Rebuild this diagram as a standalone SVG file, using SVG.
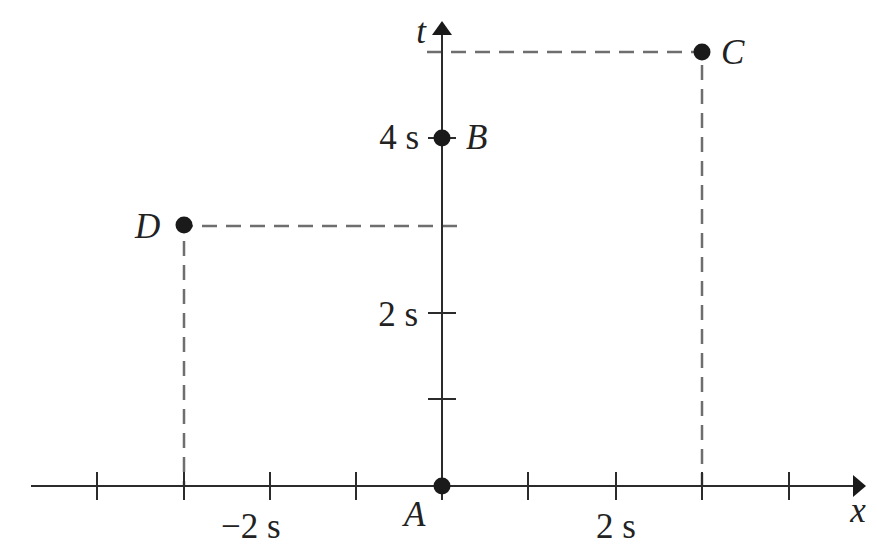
<svg xmlns="http://www.w3.org/2000/svg" width="877" height="549" viewBox="0 0 877 549">
<style>
.ax{stroke:#2b2b2b;stroke-width:2;fill:none}
.tk{stroke:#2b2b2b;stroke-width:2}
.ds{stroke:#6e6e6e;stroke-width:2.5;stroke-dasharray:15 9;fill:none}
.dot{fill:#1a1a1a}
.lb{font-family:"Liberation Serif","Times New Roman",serif;font-size:35px;fill:#222}
.it{font-style:italic}
</style>
<rect width="877" height="549" fill="#fff"/>
<g id="guides">
<path class="ds" d="M427 52H702V487"/>
<path class="ds" d="M457 226H184V487"/>
</g>
<g id="axes">
<line class="ax" x1="31" y1="486" x2="856" y2="486"/>
<polygon points="866,486 853,475 853,497" fill="#1a1a1a"/>
<line class="ax" x1="442" y1="500" x2="442" y2="32"/>
<polygon points="442,21 432,35 452,35" fill="#1a1a1a"/>
<g id="xticks">
<line class="tk" x1="97" y1="472" x2="97" y2="500"/>
<line class="tk" x1="184" y1="472" x2="184" y2="500"/>
<line class="tk" x1="270" y1="472" x2="270" y2="500"/>
<line class="tk" x1="356" y1="472" x2="356" y2="500"/>
<line class="tk" x1="528" y1="472" x2="528" y2="500"/>
<line class="tk" x1="616" y1="472" x2="616" y2="500"/>
<line class="tk" x1="702" y1="472" x2="702" y2="500"/>
<line class="tk" x1="789" y1="472" x2="789" y2="500"/>
</g>
<g id="tticks">
<line class="tk" x1="428" y1="399" x2="456" y2="399"/>
<line class="tk" x1="428" y1="313" x2="456" y2="313"/>
<line class="tk" x1="428" y1="138" x2="456" y2="138"/>
</g>
</g>
<g id="A"><circle class="dot" cx="442" cy="486" r="8.5"/><text class="lb it" x="404" y="526">A</text></g>
<g id="B"><circle class="dot" cx="442" cy="138" r="8.5"/><text class="lb it" x="466" y="149">B</text></g>
<g id="C"><circle class="dot" cx="702" cy="52" r="8.5"/><text class="lb it" x="721" y="64">C</text></g>
<g id="D"><circle class="dot" cx="184" cy="225" r="8.5"/><text class="lb it" x="135" y="238">D</text></g>
<g id="labels">
<text class="lb it" x="421" y="43" text-anchor="middle">t</text>
<text class="lb it" x="858" y="522" text-anchor="middle">x</text>
<text class="lb" x="419" y="149" text-anchor="end">4 s</text>
<text class="lb" x="418" y="326" text-anchor="end">2 s</text>
<text class="lb" x="221" y="538">−2 s</text>
<text class="lb" x="596" y="538">2 s</text>
</g>
</svg>
